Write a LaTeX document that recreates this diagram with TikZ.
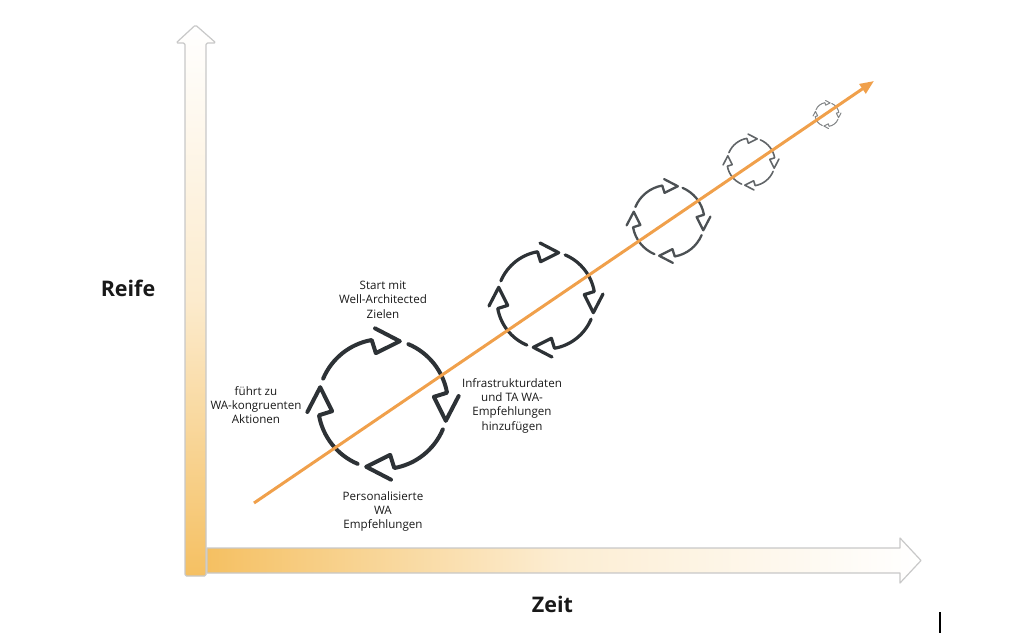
\documentclass[tikz,border=0pt]{standalone}
\usepackage{fontspec}
\setmainfont{Open Sans}
\usetikzlibrary{arrows.meta,calc}
\definecolor{axorange}{RGB}{245,192,98}
\definecolor{axline}{RGB}{200,200,200}
\definecolor{lineorange}{RGB}{240,160,75}
\definecolor{cycgray}{RGB}{45,50,54}
\definecolor{txt}{RGB}{25,25,25}

\newcommand\cyclering[6]{% cx, cy, R, lw, color, name
  \begin{scope}[shift={(#1,#2)}]
    \coordinate (#6) at (0,0);
    \foreach \k in {0,1,2,3}{
      \pgfmathsetmacro\sa{157-90*\k}
      \pgfmathsetmacro\ea{100-90*\k}
      \draw[line width=#4, draw=#5, line cap=round, line join=round]
        (\sa:#3pt) arc[start angle=\sa, end angle=\ea, radius=#3pt]
        -- (\ea-2:{0.79*#3pt}) -- (\ea-25:#3pt) -- (\ea-4:{1.17*#3pt});
    }
  \end{scope}}

\tikzset{
  lbl/.style={align=center, inner sep=0pt, text=txt,
    font=\fontsize{11.6}{14.3}\selectfont},
  axlbl/.style={inner sep=0pt, text=txt, anchor=base,
    font=\fontsize{21.5}{24}\selectfont\bfseries},
  axisshape/.style={draw=axline, line width=1.2pt, line join=round},
}

\begin{document}
\begin{tikzpicture}[x=1pt,y=-1pt]
\useasboundingbox (0,0) rectangle (1024,635);

% horizontal axis (Zeit)
\shadedraw[axisshape, left color=axorange, right color=white, middle color=axorange!28]
  (207,548) -- (900,548) -- (900,538) -- (921,560.5) -- (900,583) -- (900,573) -- (207,573) -- cycle;

% vertical axis (Reife)
\shadedraw[axisshape, top color=white, bottom color=axorange, middle color=axorange!32, rounded corners=1.5pt]
  (195.5,25) -- (216,43) -- (206,43) -- (206,576) -- (185,576) -- (185,43) -- (176,43) -- cycle;

% cycles
\cyclering{383}{404}{65}{4pt}{cycgray}{c1}
\cyclering{546}{300}{49}{3.2pt}{cycgray}{c2}
\cyclering{668.5}{221}{36}{2.3pt}{cycgray!85}{c3}
\cyclering{751}{162}{24}{1.6pt}{cycgray!75}{c4}
\cyclering{827}{114.5}{12}{1pt}{cycgray!60}{c5}

% growth line
\coordinate (ls) at (254,503);
\coordinate (le) at (874,81);
\draw[lineorange, line width=3pt, -{Triangle[length=14pt,width=11pt]}] (ls) -- (le);

% labels
\node[axlbl] (reife) at (128,296.7) {Reife};
\node[axlbl] (zeit) at (552.5,612.3) {Zeit};

\node[lbl] (start) at (383,299.5) {Start mit\\Well-Architected\\Zielen};
\node[lbl] (fuehrt) at (256,405) {führt zu\\WA-kongruenten\\Aktionen};
\node[lbl] (infra) at (512,405.5) {Infrastrukturdaten\\und TA WA-\\Empfehlungen\\hinzufügen};
\node[lbl] (pers) at (383,511.5) {Personalisierte\\WA\\Empfehlungen};

% stray cursor mark
\coordinate (m1) at (940,612);
\coordinate (m2) at (940,633);
\draw[line width=2.5pt] (m1) -- (m2);
\end{tikzpicture}
\end{document}
